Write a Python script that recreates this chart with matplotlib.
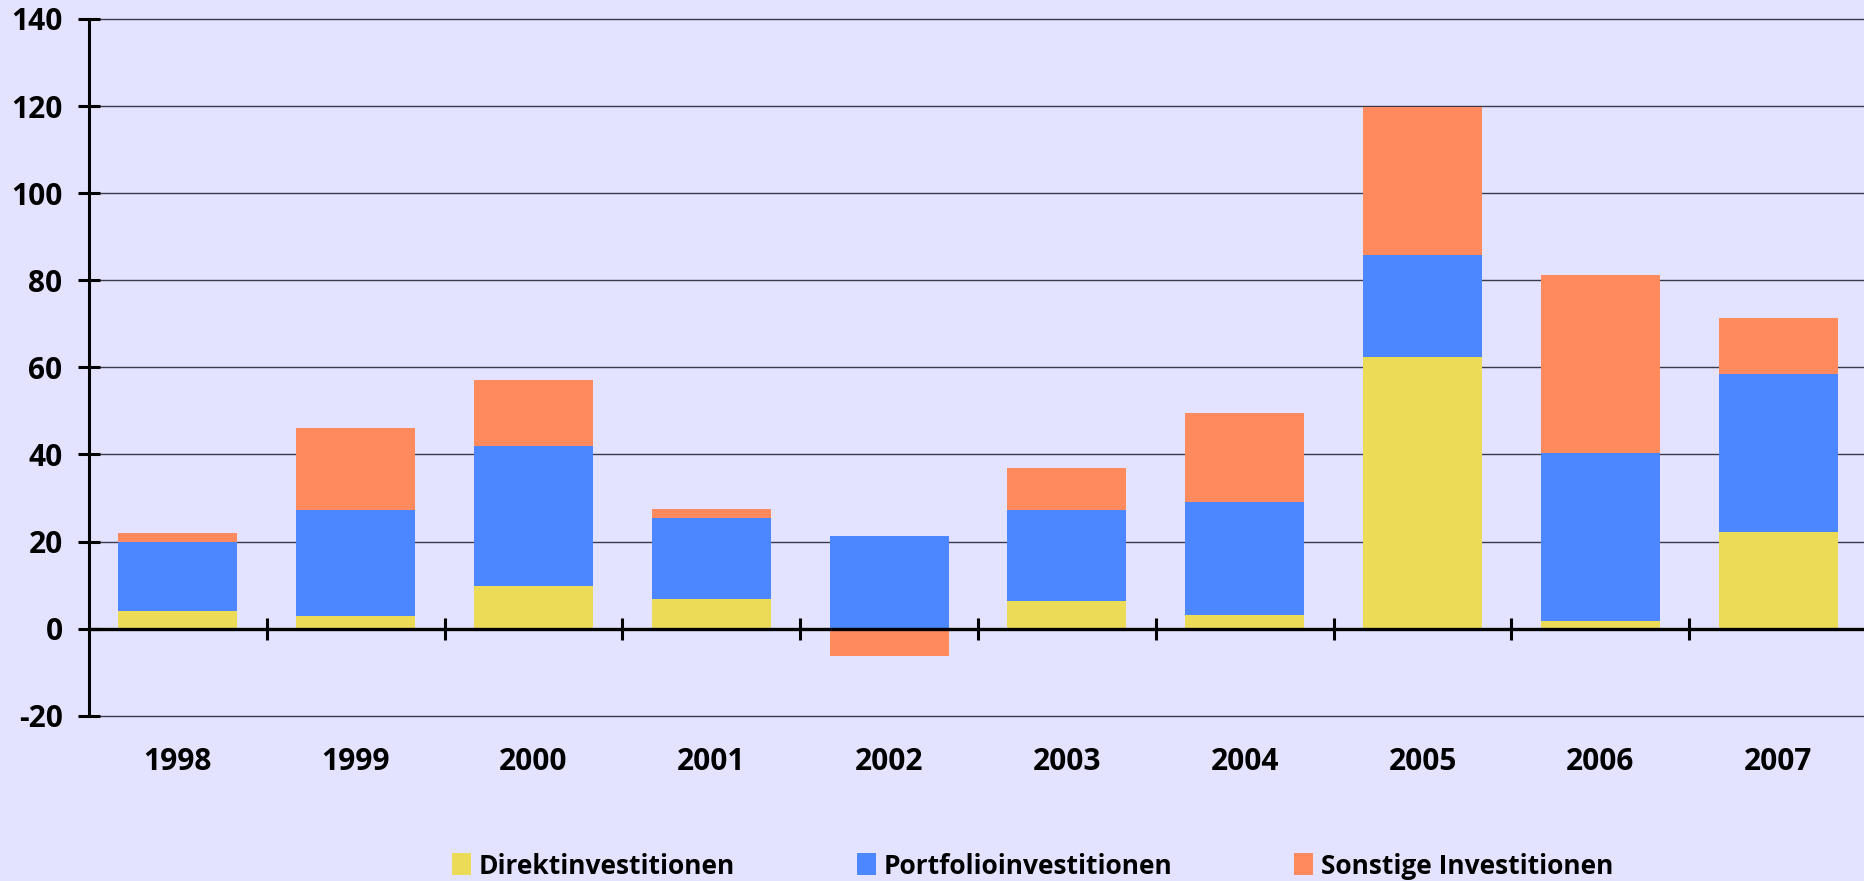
import matplotlib
matplotlib.use("Agg")
import matplotlib.pyplot as plt
import numpy as np

years = ["1998", "1999", "2000", "2001", "2002", "2003", "2004", "2005", "2006", "2007"]
direkt = [4.0, 2.9, 9.7, 6.7, 0.0, 6.3, 3.1, 62.4, 1.7, 22.1]
portfolio = [16.0, 24.3, 32.2, 18.6, 21.2, 20.9, 26.0, 23.5, 38.7, 36.4]
sonstige = [2.0, 18.8, 15.1, 2.2, -6.3, 9.8, 20.5, 34.0, 40.9, 12.9]
labels = ["Direktinvestitionen", "Portfolioinvestitionen", "Sonstige Investitionen"]
colors = ["#ECDB57", "#4D87FF", "#FF8A5E"]
bg = "#E3E3FF"

plt.rcParams['font.family'] = ['Open Sans', 'DejaVu Sans']
plt.rcParams['font.weight'] = 'bold'

fig = plt.figure(figsize=(18.64, 8.81), dpi=100, facecolor=bg)
W, H = 1864, 881
left, right, top, bottom = 89, 1867, 19, 715.7
ax = fig.add_axes([left / W, 1 - bottom / H, (right - left) / W, (bottom - top) / H], facecolor=bg)

x = np.arange(len(years)) + 0.5
d = np.array(direkt)
p = np.array(portfolio)
s = np.array(sonstige)
# stack positive parts; negative "sonstige" hangs below zero
s_base = np.where(s >= 0, d + p, 0)
ax.bar(x, d, width=0.67, color=colors[0], label=labels[0], zorder=2)
ax.bar(x, p, width=0.67, bottom=d, color=colors[1], label=labels[1], zorder=2)
ax.bar(x, s, width=0.67, bottom=s_base, color=colors[2], label=labels[2], zorder=2)

ax.set_xlim(0, len(years))
ax.set_ylim(-20, 140)
ax.set_yticks(np.arange(-20, 141, 20))
ax.set_yticklabels([str(v) for v in range(-20, 141, 20)], fontsize=21.5, fontweight='bold')
for v in range(-20, 141, 20):
    if v != 0:
        ax.axhline(v, color='#3a3a4a', lw=1.0, zorder=1, clip_on=False)

for sp in ['top', 'right']:
    ax.spines[sp].set_visible(False)
ax.spines['bottom'].set_position(('data', 0))
ax.spines['bottom'].set_linewidth(2.4)
ax.spines['bottom'].set_zorder(3)
ax.spines['left'].set_linewidth(2.2)
ax.tick_params(axis='y', direction='inout', length=16, width=2.2, pad=11)
ax.set_xticks(np.arange(1, len(years)))
ax.set_xticklabels([])
ax.tick_params(axis='x', direction='inout', length=16, width=2.2)

for xi, yr in zip(x, years):
    ax.text(xi, -0.066, yr, transform=ax.get_xaxis_transform(), ha='center', va='center',
            fontsize=21.5, fontweight='bold')

fig.legend(loc='center', bbox_to_anchor=(0.554, 0.017), ncol=3, frameon=False,
           prop={'weight': 'bold', 'size': 19}, handlelength=0.72, handleheight=0.9,
           handletextpad=0.3, columnspacing=4.6)

fig.savefig("out.png", dpi=100, facecolor=bg)
